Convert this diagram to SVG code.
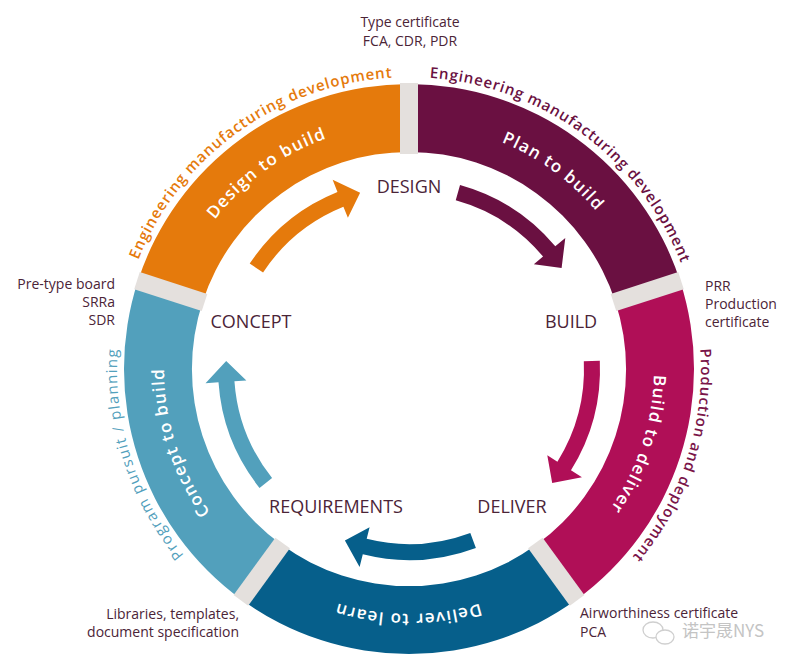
<svg xmlns="http://www.w3.org/2000/svg" xmlns:xlink="http://www.w3.org/1999/xlink" width="800" height="670" viewBox="0 0 800 670">
<style>
.lbl{font-family:"Open Sans","Noto Sans",sans-serif;font-size:14px;fill:#4b2437}
.stage{font-family:"Open Sans","Noto Sans",sans-serif;font-size:18px;fill:#4b2437;text-anchor:middle}
.band{font-family:"Open Sans","Noto Sans",sans-serif;font-size:17px;fill:#ffffff;letter-spacing:1.2px;font-weight:600}
.outer{font-family:"Open Sans","Noto Sans",sans-serif;font-size:15px;font-weight:600;letter-spacing:0.9px}
.sep{fill:#e4e0dd}
</style>
<defs>
<path id="seg" d="M -167.5,-230.6 A 285 285 0 0 1 167.5,-230.6 L 127.6,-175.6 A 217 217 0 0 0 -127.6,-175.6 Z"/>
<path id="arr" d="M -61.3,-163.9 A 175 175 0 0 1 42.3,-169.8 L 39.4,-158.2 L 64.1,-171.4 L 49.4,-197.9 L 46.2,-185.3 A 191 191 0 0 0 -66.9,-178.9 Z"/>
<path id="pIn" d="M 164,369 A 245 245 0 0 1 654,369 A 245 245 0 0 1 164,369 A 245 245 0 0 1 654,369 A 245 245 0 0 1 164,369"/>
<path id="pOut" d="M 117,369 A 292 292 0 0 1 701,369 A 292 292 0 0 1 117,369 A 292 292 0 0 1 701,369 A 292 292 0 0 1 117,369"/>
</defs>

<g id="seg-design-to-build">
<use href="#seg" transform="translate(409,369) rotate(-36)" fill="#e57a0c"/>
<text class="band" text-anchor="middle"><textPath href="#pIn" startOffset="230.9">Design to build</textPath></text>
<text class="outer" fill="#e57a0c" text-anchor="middle"><textPath href="#pOut" startOffset="277">Engineering manufacturing development</textPath></text>
</g>
<g id="seg-plan-to-build">
<use href="#seg" transform="translate(409,369) rotate(36)" fill="#6a1041"/>
<text class="band" text-anchor="middle"><textPath href="#pIn" startOffset="538.8">Plan to build</textPath></text>
<text class="outer" fill="#6a1041" text-anchor="middle"><textPath href="#pOut" startOffset="644">Engineering manufacturing development</textPath></text>
</g>
<g id="seg-build-to-deliver">
<use href="#seg" transform="translate(409,369) rotate(108)" fill="#b00f57"/>
<text class="band" text-anchor="middle"><textPath href="#pIn" startOffset="846.7">Build to deliver</textPath></text>
<text class="outer" fill="#7a1549" text-anchor="middle"><textPath href="#pOut" startOffset="1009.1">Production and deployment</textPath></text>
</g>
<g id="seg-deliver-to-learn">
<use href="#seg" transform="translate(409,369) rotate(180)" fill="#065f8b"/>
<text class="band" text-anchor="middle"><textPath href="#pIn" startOffset="1154.6">Deliver to learn</textPath></text>
</g>
<g id="seg-concept-to-build">
<use href="#seg" transform="translate(409,369) rotate(252)" fill="#52a0bc"/>
<text class="band" text-anchor="middle"><textPath href="#pIn" startOffset="1462.4">Concept to build</textPath></text>
<text class="outer" fill="#52a0bc" text-anchor="middle" style="font-weight:400;letter-spacing:1.3px"><textPath href="#pOut" startOffset="1743.0">Program pursuit / planning</textPath></text>
</g>

<g id="separators" transform="translate(409,369)">
<rect class="sep" x="-9" y="-286" width="18" height="71"/>
<rect class="sep" x="-9" y="-286" width="18" height="71" transform="rotate(72)"/>
<rect class="sep" x="-9" y="-286" width="18" height="71" transform="rotate(144)"/>
<rect class="sep" x="-9" y="-286" width="18" height="71" transform="rotate(216)"/>
<rect class="sep" x="-9" y="-286" width="18" height="71" transform="rotate(288)"/>
</g>

<g id="connectors">
<use href="#arr" transform="translate(409,369) rotate(-36)" fill="#e57a0c"/>
<use href="#arr" transform="translate(409,369) rotate(36)" fill="#6a1041"/>
<use href="#arr" transform="translate(409,369) rotate(108)" fill="#b00f57"/>
<use href="#arr" transform="translate(409,369) rotate(180)" fill="#065f8b"/>
<use href="#arr" transform="translate(409,369) rotate(252)" fill="#52a0bc"/>
</g>

<g id="node-design"><text class="stage" x="409" y="193">DESIGN</text></g>
<g id="node-build"><text class="stage" x="571" y="328">BUILD</text></g>
<g id="node-deliver"><text class="stage" x="512" y="513">DELIVER</text></g>
<g id="node-requirements"><text class="stage" x="336" y="513">REQUIREMENTS</text></g>
<g id="node-concept"><text class="stage" x="251" y="328">CONCEPT</text></g>

<g id="label-type-certificate">
<text class="lbl" x="410" y="27" text-anchor="middle">Type certificate</text>
<text class="lbl" x="410" y="46" text-anchor="middle">FCA, CDR, PDR</text>
</g>
<g id="label-pre-type">
<text class="lbl" x="115" y="289" text-anchor="end">Pre-type board</text>
<text class="lbl" x="115" y="307" text-anchor="end">SRRa</text>
<text class="lbl" x="115" y="325" text-anchor="end">SDR</text>
</g>
<g id="label-prr">
<text class="lbl" x="705" y="291">PRR</text>
<text class="lbl" x="705" y="309">Production</text>
<text class="lbl" x="705" y="327">certificate</text>
</g>
<g id="label-libraries">
<text class="lbl" x="239" y="619" text-anchor="end">Libraries, templates,</text>
<text class="lbl" x="239" y="637" text-anchor="end">document specification</text>
</g>
<g id="label-airworthiness">
<text class="lbl" x="580" y="618">Airworthiness certificate</text>
<text class="lbl" x="580" y="637">PCA</text>
</g>

<g id="watermark" fill="none" stroke="#cfcfcf" stroke-width="1.3">
<ellipse cx="653" cy="630" rx="10" ry="8"/>
<ellipse cx="665" cy="637" rx="9" ry="7" fill="#ffffff"/>
<text x="682" y="637" stroke="none" fill="#c4c4c4" style="font-family:'Noto Sans CJK SC','Noto Sans',sans-serif;font-size:17px">诺宇晟NYS</text>
</g>
</svg>
